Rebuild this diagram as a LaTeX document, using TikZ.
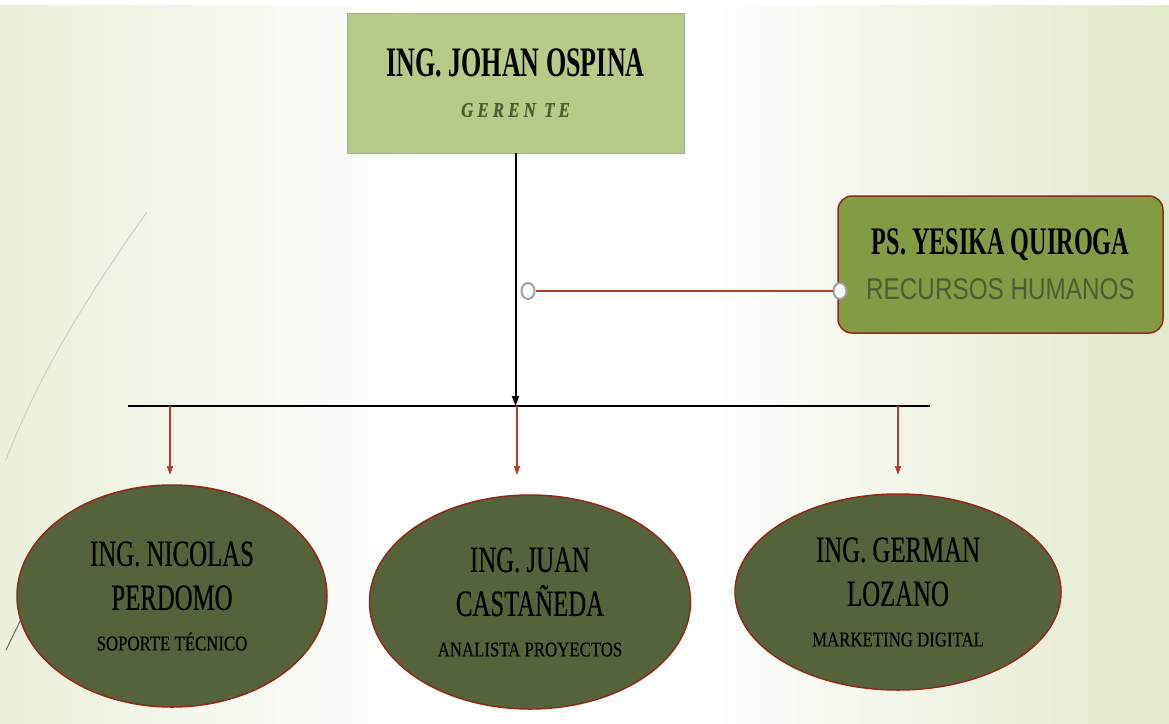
\documentclass[tikz,border=0pt]{standalone}
\usepackage{fontspec}
\usetikzlibrary{shapes.geometric,arrows.meta}
\setmainfont{Liberation Serif}
\newfontfamily\namefont[FakeStretch=0.67,FakeBold=0.4]{Liberation Serif}
\newfontfamily\bossfont[FakeStretch=0.62]{Liberation Serif}
\newfontfamily\rolefont[FakeStretch=0.8,FakeBold=0.3]{Liberation Serif}
\newfontfamily\rrhhfont[FakeStretch=0.81]{Liberation Sans}
\definecolor{bossfill}{HTML}{B8CA88}
\definecolor{bossdraw}{HTML}{8DB3A3}
\definecolor{hrfill}{HTML}{849B46}
\definecolor{staffill}{HTML}{55633B}
\definecolor{rim}{HTML}{8E2A17}
\definecolor{link}{HTML}{B0402A}
\definecolor{bgedge}{HTML}{E1E9CB}
\definecolor{subtext}{HTML}{4E5C33}

\begin{document}
\begin{tikzpicture}[
  x=1pt, y=-1pt,
  boss/.style={draw=bossdraw, fill=bossfill, minimum width=337pt, minimum height=140pt,
    align=center, font=\bossfont\bfseries\fontsize{42}{40}\selectfont},
  hr/.style={draw=rim, line width=1.5pt, fill=hrfill, rounded corners=14pt, minimum width=325pt,
    minimum height=137pt, align=center, font=\bossfont\bfseries\fontsize{39}{45}\selectfont},
  staff/.style={ellipse, draw=rim, line width=1.5pt, fill=staffill, align=center,
    font=\namefont\fontsize{37}{44}\selectfont},
  knob/.style={ellipse, draw=gray!75, fill=white, line width=2pt, inner sep=0pt,
    minimum width=13pt, minimum height=16pt},
  drop/.style={link, line width=1.4pt, -{Triangle[length=9pt,width=6pt]}}
]
  \useasboundingbox (0,0) rectangle (1169,723);
  \shade[left color=bgedge!70, right color=white] (0,0) rectangle (420,723);
  \fill[white] (420,0) rectangle (700,723);
  \shade[left color=white, right color=bgedge] (700,0) rectangle (1169,723);
  \fill[white] (0,0) rectangle (1169,5);
  \draw[gray!45, line width=0.8pt] (147,212) .. controls (95,285) and (40,370) .. (6,460);
  \draw[gray!80!black, line width=1pt] (45,570) -- (6,650);

  \node[boss] (gerente) at (515.5,83) {ING. JOHAN OSPINA\\
    {\rolefont\fontsize{21}{24}\selectfont\bfseries\itshape\color{subtext}\addfontfeatures{LetterSpace=20}GEREN TE}};
  \node[hr] (rrhh) at (1000.5,264.5) {PS. YESIKA QUIROGA\\
    {\rrhhfont\mdseries\fontsize{30}{32}\selectfont\color{subtext}RECURSOS HUMANOS}};

  \node[knob] (cL) at (528,291) {};
  \node[knob] (cR) at (840,291) {};
  \draw[link, line width=1.8pt] (cL) -- (cR);

  \coordinate (barL) at (128,406);
  \coordinate (barR) at (930,406);
  \coordinate (barM) at (515.5,406);
  \draw[line width=2pt, -{Triangle[length=10pt,width=7pt]}] (gerente.south) -- (barM);
  \draw[line width=2pt] (barL) -- (barR);

  \coordinate (bar1) at (170,406);
  \coordinate (bar2) at (517,406);
  \coordinate (bar3) at (898,406);
  \coordinate (tip1) at (170,475);
  \coordinate (tip2) at (517,475);
  \coordinate (tip3) at (898,475);
  \draw[drop] (bar1) -- (tip1);
  \draw[drop] (bar2) -- (tip2);
  \draw[drop] (bar3) -- (tip3);

  \node[staff, minimum width=310pt, minimum height=222pt] (soporte) at (172,596)
    {ING. NICOLAS\\PERDOMO\\[-3.5pt]{\rolefont\fontsize{21}{24}\selectfont SOPORTE TÉCNICO}};
  \node[staff, minimum width=321pt, minimum height=214pt] (analista) at (530,602)
    {ING. JUAN\\CASTAÑEDA\\[-3.5pt]{\rolefont\fontsize{21}{24}\selectfont ANALISTA PROYECTOS}};
  \node[staff, minimum width=326pt, minimum height=196pt] (marketing) at (898,592)
    {ING. GERMAN\\LOZANO\\[-3.5pt]{\rolefont\fontsize{21}{24}\selectfont MARKETING DIGITAL}};
\end{tikzpicture}
\end{document}
